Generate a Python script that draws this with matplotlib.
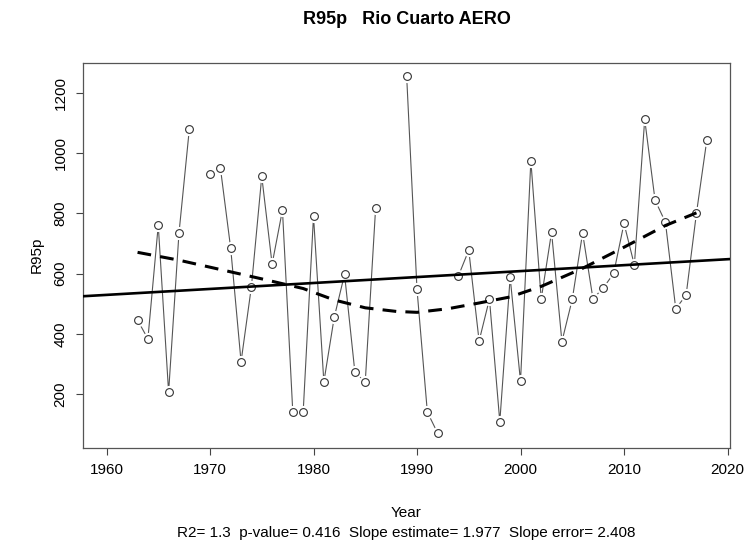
import numpy as np
import matplotlib
matplotlib.use("Agg")
from matplotlib import pyplot as plt

plt.rcParams['font.family'] = ['Liberation Sans', 'DejaVu Sans']

# R95p values, nan = missing year
years = np.arange(1963, 2019)
r95p = [446, 384, 761, 207, 734, 1079, np.nan, 931, 952, 684,
        308, 557, 923, 632, 811, 140, 140, 791, 241, 455,
        598, 273, 241, 817, np.nan, np.nan, 1255, 548, 141, 71,
        np.nan, 593, 678, 377, 516, 109, 588, 243, 975, 516,
        738, 375, 515, 735, 517, 553, 601, 767, 629, 1112,
        844, 771, 484, 529, 801, 1043]
r95p = np.array(r95p, dtype=float)

# smoothed curve (dashed)
smooth_years = [1963, 1967, 1971, 1975, 1979, 1982, 1985, 1988, 1990,
                1993, 1996, 1999, 2002, 2006, 2010, 2014, 2017]
smooth_vals = [671, 645, 614, 583, 551, 513, 487, 475, 472,
               484, 503, 523, 558, 618, 688, 760, 802]

title = "R95p   Rio Cuarto AERO"
stats_text = "R2= 1.3  p-value= 0.416  Slope estimate= 1.977  Slope error= 2.408"
x_ticks = [1960, 1970, 1980, 1990, 2000, 2010, 2020]
y_ticks = [200, 400, 600, 800, 1000, 1200]

W, H = 752, 551
fig = plt.figure(figsize=(W / 100, H / 100), dpi=100)
ax = fig.add_axes([82.7 / W, 1 - 447.7 / H, (730.3 - 82.7) / W, (447.7 - 62.7) / H])

xlim = (1957.7, 2020.27)
ylim = (23, 1300)

# data line with gaps around points (R type="b" look)
ax.plot(years, r95p, color='#555555', lw=0.8, zorder=2)
ax.plot(years, r95p, ls='none', marker='o', ms=9.5, mfc='white', mec='none', zorder=3)
ax.plot(years, r95p, ls='none', marker='o', ms=5.6, mfc='white', mec='#333333', mew=0.8, zorder=4)

ok = ~np.isnan(r95p)
# linear trend
b1, b0 = np.polyfit(years[ok], r95p[ok], 1)
xx = np.array(xlim)
ax.plot(xx, b0 + b1 * xx, color='black', lw=1.9, zorder=5)

# smooth, dashed
ax.plot(smooth_years, smooth_vals, color='black', lw=2.2, ls=(0, (4.5, 3)), zorder=5)

ax.set_xlim(xlim)
ax.set_ylim(ylim)
ax.set_xticks(x_ticks)
ax.set_yticks(y_ticks)
ax.tick_params(axis='both', direction='out', length=5, width=0.8, color='#444444',
               labelsize=11, pad=6)
ax.tick_params(axis='y', labelrotation=90)
for lab in ax.get_yticklabels():
    lab.set_va('center')
for s in ax.spines.values():
    s.set_color('#555555')
    s.set_linewidth(0.9)

fig.text(406.5 / W, 1 - 20 / H, title, ha='center', va='center', fontsize=13, fontweight='bold')
fig.text(406.5 / W, 1 - 513 / H, "Year", ha='center', va='center', fontsize=11)
fig.text(406.5 / W, 1 - 533 / H, stats_text, ha='center', va='center', fontsize=11)
fig.text(37 / W, 1 - 255 / H, "R95p", ha='center', va='center', fontsize=11, rotation=90)

fig.savefig("out.png", dpi=100)
